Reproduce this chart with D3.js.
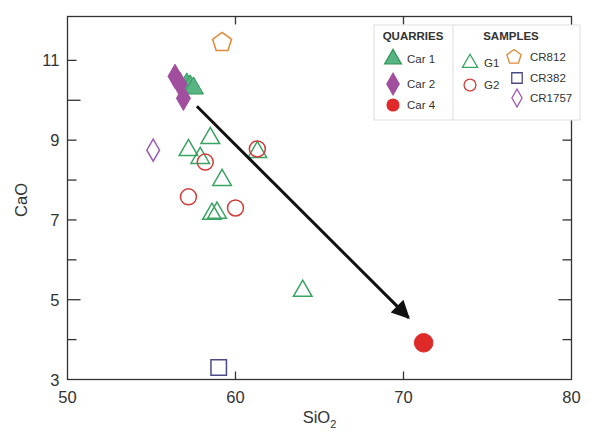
<!DOCTYPE html>
<html>
<head>
<meta charset="utf-8">
<script src="https://cdn.jsdelivr.net/npm/d3@7"></script>
<style>
  body { margin: 0; background: #fff; }
  text { font-family: "Liberation Sans", Arial, sans-serif; fill: #333; }
</style>
</head>
<body>
<div id="chart"></div>
<script>
"use strict";

// data (SiO2, CaO)
var car1 = [[57.1, 10.4], [57.3, 10.35], [57.5, 10.3]];
var car2 = [[56.4, 10.6], [56.7, 10.4], [56.9, 10.05]];
var car4 = [[71.2, 3.92]];
var g1 = [[57.2, 8.75], [58.5, 9.05], [57.9, 8.55], [59.2, 8.0], [58.6, 7.15], [58.9, 7.18], [61.3, 8.7], [64.0, 5.22]];
var g2 = [[58.2, 8.45], [57.2, 7.58], [60.0, 7.3], [61.3, 8.78]];
var cr812 = [[59.2, 11.45]];
var cr382 = [[59.0, 3.3]];
var cr1757 = [[55.1, 8.75]];
var trend = [[57.7, 9.85], [70.3, 4.55]];

var xTicks = [50, 60, 70, 80];
var yTicks = [3, 5, 7, 9, 11];
var yMinor = [4, 5, 6, 7, 8, 9, 10, 11];

var width = 598, height = 436;
var x = d3.scaleLinear().domain([50, 80]).range([67.5, 571.5]);
var y = d3.scaleLinear().domain([3, 12.1]).range([379.5, 16.5]);

var svg = d3.select("#chart").append("svg")
  .attr("width", width).attr("height", height);

// frame
svg.append("rect")
  .attr("x", x(50)).attr("y", y(12.1))
  .attr("width", x(80) - x(50)).attr("height", y(3) - y(12.1))
  .attr("fill", "none").attr("stroke", "#333").attr("stroke-width", 1.3);

// inward ticks on all four sides
function tickLen(v) { return (v === 5 || v === 10) ? 13 : 9; }
var tg = svg.append("g").attr("stroke", "#333").attr("stroke-width", 1.3);
yMinor.forEach(function (v) {
  tg.append("line").attr("x1", x(50)).attr("x2", x(50) + tickLen(v)).attr("y1", y(v)).attr("y2", y(v));
  tg.append("line").attr("x1", x(80)).attr("x2", x(80) - tickLen(v)).attr("y1", y(v)).attr("y2", y(v));
});
[60, 70].forEach(function (v) {
  tg.append("line").attr("x1", x(v)).attr("x2", x(v)).attr("y1", y(3)).attr("y2", y(3) - 8);
  tg.append("line").attr("x1", x(v)).attr("x2", x(v)).attr("y1", y(12.1)).attr("y2", y(12.1) + 8);
});

// tick labels
svg.append("g").selectAll("text").data(yTicks).join("text")
  .attr("x", x(50) - 8).attr("y", function (d) { return y(d) + 6; })
  .attr("text-anchor", "end").style("font-size", "16.5px")
  .text(function (d) { return d; });
svg.append("g").selectAll("text").data(xTicks).join("text")
  .attr("x", function (d) { return x(d); }).attr("y", 403)
  .attr("text-anchor", "middle").style("font-size", "16.5px")
  .text(function (d) { return d; });

// axis titles
var xt = svg.append("text").attr("x", x(65)).attr("y", 423)
  .attr("text-anchor", "middle").style("font-size", "16.5px");
xt.append("tspan").text("SiO");
xt.append("tspan").attr("dy", 5).style("font-size", "11px").text("2");
svg.append("text").attr("transform", "translate(27," + y(7.5) + ") rotate(-90)")
  .attr("text-anchor", "middle").style("font-size", "16.5px").text("CaO");

// marker helpers
var triangle = d3.symbol().type(d3.symbolTriangle);
var diamond = d3.symbol().type(d3.symbolDiamond);
var circle = d3.symbol().type(d3.symbolCircle);
var square = d3.symbol().type(d3.symbolSquare);
function pentagon(r) {
  var pts = d3.range(5).map(function (i) {
    var a = -Math.PI / 2 + i * 2 * Math.PI / 5;
    return [r * Math.cos(a), r * Math.sin(a)];
  });
  return d3.line()(pts) + "Z";
}

function drawSet(data, d, fill, stroke, sw) {
  svg.append("g").selectAll("path").data(data).join("path")
    .attr("transform", function (p) { return "translate(" + x(p[0]) + "," + y(p[1]) + ")"; })
    .attr("d", d)
    .attr("fill", fill).attr("stroke", stroke).attr("stroke-width", sw);
}

// arrow head
var defs = svg.append("defs");
defs.append("marker").attr("id", "head")
  .attr("viewBox", "0 0 10 10").attr("refX", 9).attr("refY", 5)
  .attr("markerWidth", 7).attr("markerHeight", 6).attr("orient", "auto")
  .attr("markerUnits", "strokeWidth")
  .append("path").attr("d", "M0,0L10,5L0,10Z").attr("fill", "#111");

drawSet(g1, triangle.size(150)(), "none", "#3aa463", 1.5);
drawSet(g2, circle.size(200)(), "none", "#d23b3b", 1.5);
drawSet(car1, triangle.size(170)(), "#58b482", "#2f9a5a", 1);
drawSet(car2, diamond.size(170)(), "#a24e9e", "#a24e9e", 1);
drawSet(cr812, pentagon(10), "none", "#e08a3a", 1.5);
drawSet(cr382, square.size(240)(), "none", "#4a4a88", 1.5);
drawSet(cr1757, diamond.size(140)(), "none", "#a05cb0", 1.5);

svg.append("path").datum(trend)
  .attr("d", d3.line().x(function (p) { return x(p[0]); }).y(function (p) { return y(p[1]); }))
  .attr("stroke", "#111").attr("stroke-width", 3).attr("fill", "none")
  .attr("marker-end", "url(#head)");

drawSet(car4, circle.size(270)(), "#e02a2a", "#e02a2a", 1);

// legend
var lg = svg.append("g");
lg.append("rect").attr("x", 374).attr("y", 25).attr("width", 206).attr("height", 95)
  .attr("fill", "#fff").attr("stroke", "#ddd");
lg.append("line").attr("x1", 453).attr("x2", 453).attr("y1", 25).attr("y2", 120).attr("stroke", "#ddd");
lg.append("text").attr("x", 413).attr("y", 40).attr("text-anchor", "middle")
  .style("font-size", "11.5px").style("font-weight", "bold").text("QUARRIES");
lg.append("text").attr("x", 511).attr("y", 40).attr("text-anchor", "middle")
  .style("font-size", "11.5px").style("font-weight", "bold").text("SAMPLES");

var legendItems = [
  { label: "Car 1", d: triangle.size(120)(), fill: "#58b482", stroke: "#2f9a5a", cx: 393, cy: 59, tx: 407 },
  { label: "Car 2", d: diamond.size(130)(), fill: "#a24e9e", stroke: "#a24e9e", cx: 393, cy: 84, tx: 407 },
  { label: "Car 4", d: circle.size(110)(), fill: "#e02a2a", stroke: "#e02a2a", cx: 393, cy: 105, tx: 407 },
  { label: "G1", d: triangle.size(100)(), fill: "none", stroke: "#3aa463", cx: 470, cy: 63, tx: 484 },
  { label: "G2", d: circle.size(110)(), fill: "none", stroke: "#d23b3b", cx: 470, cy: 85, tx: 484 },
  { label: "CR812", d: pentagon(7.5), fill: "none", stroke: "#e08a3a", cx: 514, cy: 57, tx: 530 },
  { label: "CR382", d: square.size(110)(), fill: "none", stroke: "#4a4a88", cx: 517, cy: 78, tx: 530 },
  { label: "CR1757", d: diamond.size(90)(), fill: "none", stroke: "#a05cb0", cx: 517, cy: 98, tx: 530 }
];
legendItems.forEach(function (it) {
  lg.append("path").attr("transform", "translate(" + it.cx + "," + it.cy + ")")
    .attr("d", it.d).attr("fill", it.fill).attr("stroke", it.stroke).attr("stroke-width", 1.3);
  lg.append("text").attr("x", it.tx).attr("y", it.cy + 4).style("font-size", "11.5px").text(it.label);
});
</script>
</body>
</html>
